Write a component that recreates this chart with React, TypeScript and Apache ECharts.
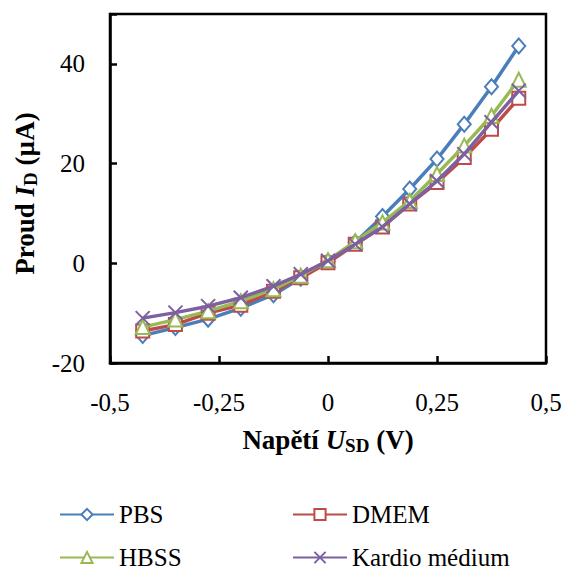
import React, { useEffect, useRef } from "react";
import * as echarts from "echarts";

const voltage = [-0.425, -0.35, -0.275, -0.2, -0.125, -0.0625, 0, 0.0625, 0.125, 0.1875, 0.25, 0.3125, 0.375, 0.4375];
const pbs = [-14.5, -12.9, -11.2, -9.0, -6.3, -3.0, 0.4, 4.2, 9.4, 14.9, 20.9, 27.9, 35.4, 43.6];
const dmem = [-13.6, -12.3, -10.0, -8.4, -5.6, -2.9, 0.1, 3.8, 7.3, 11.9, 16.2, 21.2, 26.9, 33.1];
const hbss = [-12.8, -11.3, -9.6, -7.6, -5.2, -2.5, 0.6, 4.4, 8.2, 12.5, 17.9, 23.6, 29.6, 36.8];
const kardio = [-11.0, -9.9, -8.6, -6.9, -4.6, -2.2, 0.5, 3.8, 7.3, 11.9, 16.5, 21.9, 28.3, 34.6];
const seriesNames = ["PBS", "DMEM", "HBSS", "Kardio médium"];
const seriesColors = ["#4A7EBB", "#BE4B48", "#98B954", "#7D60A0"];

const FONT = '"Liberation Serif", "Times New Roman", serif';

export default function App() {
  const ref = useRef<HTMLDivElement>(null);
  useEffect(() => {
    if (!ref.current) return;
    const chart = echarts.init(ref.current, null, { renderer: "svg" });
    const allData = [pbs, dmem, hbss, kardio];
    const symbols = ["diamond", "rect", "triangle", "path://M0,0L10,10M10,0L0,10"];
    const sizes = [[13, 15], 13, 14, 14];
    const series = allData.map((d, i) => ({
      name: seriesNames[i],
      type: "line",
      data: d.map((v, j) => [voltage[j], v]),
      symbol: symbols[i],
      symbolSize: sizes[i],
      showAllSymbol: true,
      lineStyle: { color: seriesColors[i], width: 3.5 },
      itemStyle: {
        color: i === 3 ? seriesColors[i] : "#ffffff",
        borderColor: seriesColors[i],
        borderWidth: 2,
      },
      z: 2 + i,
    }));
    const legendPos = [
      { left: 59, top: 502 },
      { left: 292, top: 502 },
      { left: 59, top: 545 },
      { left: 292, top: 545 },
    ];
    const legends = seriesNames.map((n, i) => ({
      ...legendPos[i],
      data: [n],
      itemWidth: 54,
      itemHeight: 14,
      itemGap: 0,
      padding: 0,
      textStyle: { fontFamily: FONT, fontSize: 25, color: "#000" },
    }));
    const titleRich = {
      i: { fontFamily: FONT, fontSize: 27, fontWeight: "bold", fontStyle: "italic", color: "#000" },
      sub: { fontFamily: FONT, fontSize: 19, fontWeight: "bold", color: "#000", padding: [12, 0, 0, 0] },
    };
    chart.setOption({
      animation: false,
      textStyle: { fontFamily: FONT },
      grid: {
        left: 110,
        right: 20,
        top: 14,
        bottom: 208,
        show: true,
        borderColor: "#000",
        borderWidth: 2.5,
        backgroundColor: "transparent",
      },
      legend: legends,
      xAxis: {
        type: "value",
        min: -0.5,
        max: 0.5,
        interval: 0.25,
        splitLine: { show: false },
        axisLine: { show: true, onZero: false, lineStyle: { color: "#000", width: 2.5 } },
        axisTick: { show: true, inside: true, length: 7, lineStyle: { color: "#000", width: 2.5 } },
        axisLabel: {
          margin: 27,
          fontFamily: FONT,
          fontSize: 25,
          color: "#000",
          formatter: (v: number) => String(v).replace(".", ","),
        },
        name: "Napětí {i|U}{sub|SD} (V)",
        nameLocation: "middle",
        nameGap: 61,
        nameTextStyle: {
          fontFamily: FONT,
          fontSize: 27,
          fontWeight: "bold",
          color: "#000",
          rich: titleRich,
        },
      },
      yAxis: {
        type: "value",
        min: -20,
        max: 50,
        interval: 20,
        splitLine: { show: false },
        axisLine: { show: true, onZero: false, lineStyle: { color: "#000", width: 2.5 } },
        axisTick: { show: true, inside: true, length: 7, lineStyle: { color: "#000", width: 2.5 } },
        axisLabel: {
          margin: 25,
          fontFamily: FONT,
          fontSize: 25,
          color: "#000",
          formatter: (v: number) => (v > 40 ? "" : String(v)),
        },
        name: "Proud {i|I}{sub|D} (µA)",
        nameLocation: "middle",
        nameGap: 70,
        nameRotate: 90,
        nameTextStyle: {
          fontFamily: FONT,
          fontSize: 27,
          fontWeight: "bold",
          color: "#000",
          padding: [0, 10, 0, 0],
          rich: titleRich,
        },
      },
      series,
    });
    return () => chart.dispose();
  }, []);
  return <div ref={ref} style={{ position: "absolute", left: 0, top: 0, width: 566, height: 571 }} />;
}
